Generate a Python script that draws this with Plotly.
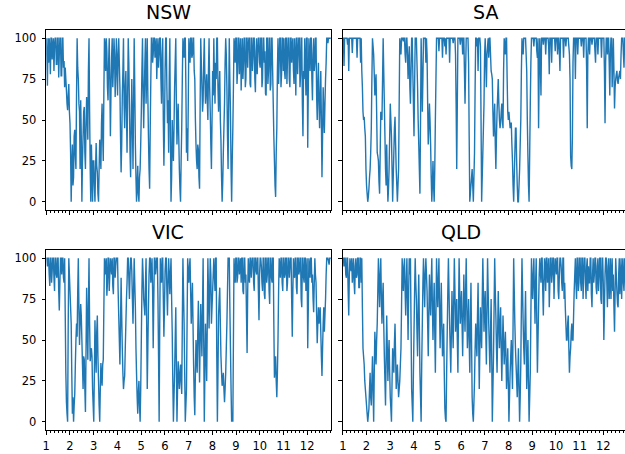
import numpy as np
import plotly.graph_objects as go

# ---- data (~0.025 month resolution) ----
nsw = [
    100, 88, 71, 100, 85, 100, 93, 78, 100, 100, 87, 95, 100, 80, 95, 100, 100, 84, 84, 100,
    100, 76, 90, 100, 100, 77, 77, 100, 100, 82, 86, 70, 82, 75, 68, 60, 56, 65, 72, 55,
    48, 30, 0, 22, 35, 10, 15, 40, 44, 28, 20, 65, 100, 82, 75, 60, 55, 20, 62, 40,
    0, 25, 40, 55, 58, 30, 20, 48, 64, 52, 38, 80, 100, 55, 20, 0, 35, 18, 0, 25,
    25, 10, 0, 20, 36, 22, 18, 5, 0, 20, 38, 30, 20, 48, 60, 40, 25, 67, 100, 95,
    80, 100, 92, 70, 62, 85, 100, 75, 40, 68, 88, 100, 70, 82, 100, 90, 64, 78, 100, 85,
    65, 90, 100, 85, 70, 40, 18, 35, 65, 80, 100, 60, 45, 70, 80, 55, 30, 65, 100, 85,
    60, 30, 15, 45, 75, 50, 20, 60, 100, 70, 35, 15, 0, 10, 22, 5, 0, 15, 20, 35,
    55, 80, 100, 70, 45, 65, 85, 100, 60, 78, 100, 65, 40, 20, 8, 45, 75, 100, 100, 85,
    90, 100, 100, 88, 95, 100, 75, 90, 100, 82, 90, 100, 100, 75, 60, 90, 100, 50, 22, 45,
    80, 100, 100, 70, 48, 62, 30, 75, 100, 40, 0, 15, 50, 35, 25, 45, 70, 85, 100, 60,
    35, 50, 60, 40, 20, 8, 0, 25, 45, 75, 100, 95, 88, 100, 100, 70, 30, 45, 25, 60,
    100, 92, 85, 100, 100, 88, 90, 100, 100, 80, 75, 50, 35, 25, 20, 35, 32, 15, 8, 60,
    100, 85, 70, 55, 62, 85, 100, 75, 60, 70, 78, 62, 50, 80, 100, 70, 55, 35, 20, 50,
    80, 65, 100, 75, 60, 85, 75, 100, 100, 70, 55, 68, 80, 50, 38, 15, 0, 12, 30, 45,
    60, 85, 100, 90, 70, 40, 20, 60, 100, 75, 55, 20, 0, 25, 45, 70, 100, 95, 85, 100,
    100, 72, 80, 100, 100, 78, 90, 100, 68, 85, 100, 75, 85, 100, 100, 70, 75, 100, 100, 82,
    95, 100, 100, 72, 70, 100, 100, 80, 88, 100, 100, 75, 67, 92, 100, 78, 90, 100, 100, 85,
    82, 100, 100, 70, 75, 100, 100, 85, 92, 66, 65, 100, 100, 72, 80, 100, 100, 68, 72, 100,
    100, 80, 60, 40, 25, 10, 3, 30, 45, 80, 100, 72, 85, 100, 100, 70, 78, 100, 100, 80,
    100, 80, 75, 100, 100, 72, 88, 100, 100, 75, 70, 100, 100, 85, 95, 100, 80, 72, 100, 88,
    65, 100, 100, 78, 90, 100, 100, 70, 78, 100, 100, 60, 40, 80, 75, 100, 85, 65, 100, 100,
    33, 70, 100, 88, 80, 100, 100, 75, 62, 90, 100, 80, 85, 100, 100, 65, 50, 72, 85, 60,
    45, 65, 80, 50, 15, 40, 70, 55, 42, 60, 75, 85, 100, 100, 97, 100, 100, 100, 100, 100]

sa = [
    100, 100, 83, 100, 100, 100, 100, 100, 96, 100, 80, 100, 100, 100, 100, 100, 91, 100, 100, 100,
    100, 100, 100, 100, 88, 100, 100, 100, 100, 100, 85, 100, 80, 70, 55, 50, 52, 45, 40, 20,
    10, 5, 0, 3, 8, 15, 20, 30, 45, 75, 100, 95, 90, 78, 65, 72, 78, 55, 30, 28,
    25, 12, 5, 30, 55, 52, 50, 75, 100, 80, 60, 40, 20, 10, 35, 15, 0, 8, 20, 40,
    60, 50, 40, 20, 0, 15, 30, 45, 52, 35, 20, 10, 0, 10, 20, 60, 100, 95, 90, 100,
    100, 100, 98, 100, 100, 90, 85, 100, 100, 90, 75, 85, 95, 70, 60, 80, 100, 100, 80, 60,
    40, 70, 100, 100, 100, 85, 70, 50, 35, 20, 5, 50, 100, 80, 55, 75, 100, 100, 100, 100,
    85, 100, 90, 60, 35, 45, 60, 50, 35, 15, 0, 10, 25, 10, 0, 20, 50, 75, 100, 100,
    100, 100, 92, 100, 100, 100, 100, 100, 88, 100, 100, 100, 95, 100, 90, 100, 100, 100, 100, 100,
    85, 100, 100, 100, 100, 100, 97, 100, 100, 100, 90, 60, 20, 60, 100, 100, 100, 100, 96, 100,
    100, 100, 90, 100, 100, 80, 60, 80, 100, 100, 100, 100, 85, 40, 0, 5, 10, 15, 20, 10,
    0, 15, 30, 70, 100, 100, 95, 100, 80, 100, 100, 100, 95, 50, 0, 15, 30, 45, 60, 90,
    100, 85, 70, 90, 95, 100, 88, 100, 100, 90, 80, 78, 75, 55, 40, 50, 60, 35, 20, 40,
    55, 65, 75, 60, 50, 45, 48, 55, 60, 50, 45, 80, 100, 95, 90, 100, 100, 75, 55, 50,
    55, 50, 45, 48, 48, 35, 25, 10, 0, 15, 30, 45, 45, 25, 10, 0, 0, 10, 20, 35,
    50, 80, 100, 95, 90, 100, 100, 100, 100, 90, 80, 50, 28, 10, 0, 30, 60, 85, 100, 100,
    100, 100, 95, 100, 100, 100, 100, 92, 88, 100, 45, 80, 100, 85, 65, 100, 100, 100, 96, 100,
    100, 100, 90, 100, 100, 100, 100, 95, 78, 100, 100, 100, 85, 100, 100, 100, 100, 100, 92, 100,
    100, 100, 90, 100, 100, 92, 80, 100, 100, 100, 100, 100, 88, 100, 100, 100, 95, 100, 100, 100,
    100, 95, 90, 75, 28, 22, 20, 40, 85, 100, 100, 100, 75, 100, 100, 100, 90, 100, 100, 100,
    100, 100, 95, 100, 100, 100, 88, 100, 100, 100, 100, 80, 45, 90, 100, 100, 90, 100, 100, 100,
    96, 100, 100, 100, 100, 92, 85, 100, 100, 100, 90, 100, 100, 100, 100, 100, 88, 100, 100, 100,
    100, 80, 48, 85, 100, 100, 90, 100, 100, 85, 65, 90, 100, 100, 70, 85, 100, 80, 57, 70,
    75, 78, 80, 74, 72, 76, 78, 80, 75, 90, 100, 100, 100, 90, 82, 100, 100, 100, 100, 100]

vic = [
    100, 100, 95, 100, 100, 90, 83, 100, 100, 85, 92, 100, 100, 88, 80, 100, 100, 90, 88, 100,
    100, 80, 68, 85, 100, 100, 90, 100, 100, 88, 85, 100, 65, 30, 12, 5, 0, 60, 100, 90,
    80, 70, 60, 30, 5, 15, 0, 10, 17, 35, 50, 60, 52, 80, 100, 70, 47, 60, 72, 65,
    50, 35, 20, 40, 38, 20, 6, 45, 82, 60, 38, 70, 100, 60, 37, 42, 45, 40, 20, 10,
    0, 30, 62, 45, 30, 55, 65, 40, 25, 10, 0, 20, 36, 28, 22, 35, 38, 70, 100, 95,
    90, 100, 77, 85, 100, 100, 80, 90, 100, 95, 90, 100, 83, 78, 100, 100, 88, 95, 100, 100,
    100, 80, 65, 50, 35, 60, 88, 65, 45, 30, 20, 25, 28, 45, 60, 75, 85, 100, 100, 88,
    75, 90, 100, 100, 92, 75, 60, 80, 100, 85, 70, 45, 29, 15, 5, 18, 25, 10, 0, 20,
    50, 80, 100, 90, 75, 70, 65, 85, 100, 60, 20, 45, 70, 90, 100, 100, 85, 92, 100, 80,
    45, 75, 100, 100, 90, 95, 100, 100, 75, 40, 0, 60, 100, 90, 85, 100, 100, 75, 52, 70,
    92, 100, 100, 80, 65, 85, 100, 90, 78, 90, 100, 75, 55, 25, 0, 15, 30, 50, 70, 35,
    0, 20, 37, 30, 20, 28, 35, 25, 17, 60, 100, 80, 60, 30, 0, 10, 20, 60, 100, 90,
    85, 95, 100, 80, 60, 72, 85, 60, 35, 15, 4, 30, 50, 40, 30, 55, 74, 50, 24, 50,
    72, 55, 40, 70, 100, 50, 0, 30, 60, 45, 25, 60, 100, 80, 57, 80, 100, 90, 60, 70,
    80, 90, 100, 90, 80, 100, 100, 40, 0, 30, 65, 75, 82, 60, 40, 30, 22, 26, 30, 20,
    12, 20, 30, 45, 60, 80, 100, 100, 100, 70, 45, 20, 0, 5, 0, 50, 100, 90, 85, 100,
    100, 85, 88, 100, 100, 90, 95, 100, 85, 100, 100, 80, 78, 100, 100, 85, 90, 65, 42, 80,
    100, 90, 85, 100, 100, 88, 96, 100, 100, 85, 80, 100, 100, 92, 90, 100, 100, 80, 62, 90,
    100, 100, 95, 85, 80, 100, 100, 78, 75, 100, 100, 85, 90, 100, 100, 80, 72, 100, 100, 88,
    85, 100, 100, 60, 27, 35, 40, 25, 15, 30, 50, 80, 100, 95, 88, 100, 100, 85, 80, 100,
    100, 88, 90, 100, 100, 80, 85, 100, 100, 88, 95, 100, 100, 75, 52, 80, 100, 92, 88, 100,
    100, 82, 78, 100, 100, 90, 92, 100, 100, 75, 70, 100, 100, 88, 85, 100, 100, 80, 90, 100,
    45, 70, 100, 95, 88, 100, 100, 85, 90, 75, 67, 85, 100, 90, 85, 65, 48, 60, 70, 60,
    65, 70, 55, 40, 28, 45, 60, 70, 55, 65, 75, 90, 100, 100, 100, 98, 96, 100, 100, 100]

qld = [
    100, 100, 95, 100, 100, 90, 88, 100, 100, 80, 65, 90, 100, 95, 92, 100, 85, 92, 100, 85,
    78, 95, 100, 88, 90, 100, 100, 82, 82, 100, 100, 85, 100, 70, 45, 40, 35, 25, 20, 15,
    10, 5, 0, 4, 8, 20, 30, 15, 10, 25, 40, 20, 0, 30, 55, 45, 35, 50, 60, 80,
    100, 85, 70, 90, 100, 75, 60, 75, 85, 60, 40, 25, 10, 40, 65, 45, 25, 40, 50, 30,
    15, 8, 0, 25, 45, 38, 30, 48, 60, 40, 20, 28, 35, 25, 15, 20, 25, 35, 45, 70,
    100, 90, 80, 95, 100, 80, 65, 85, 100, 75, 50, 80, 100, 90, 100, 60, 20, 10, 0, 30,
    55, 80, 100, 85, 75, 55, 40, 70, 90, 60, 30, 15, 0, 35, 60, 85, 100, 85, 70, 90,
    100, 90, 80, 60, 40, 65, 90, 75, 65, 85, 100, 70, 50, 70, 85, 55, 30, 65, 100, 85,
    70, 85, 100, 70, 45, 65, 85, 60, 40, 50, 60, 30, 8, 2, 0, 30, 55, 80, 100, 80,
    60, 45, 30, 55, 80, 60, 45, 75, 100, 80, 55, 65, 75, 50, 30, 65, 100, 80, 60, 70,
    80, 60, 40, 65, 90, 70, 55, 80, 100, 70, 45, 60, 75, 50, 30, 60, 85, 50, 15, 5,
    0, 12, 25, 45, 60, 50, 40, 65, 85, 50, 20, 45, 70, 55, 45, 75, 100, 80, 55, 70,
    80, 55, 35, 70, 100, 80, 60, 45, 30, 55, 75, 40, 0, 20, 40, 70, 100, 80, 65, 45,
    30, 55, 80, 60, 45, 60, 70, 45, 25, 45, 65, 50, 35, 45, 55, 40, 20, 30, 45, 25,
    0, 15, 30, 40, 50, 35, 20, 60, 100, 80, 60, 45, 35, 25, 15, 30, 45, 20, 0, 15,
    35, 70, 100, 80, 60, 45, 35, 60, 80, 50, 20, 35, 50, 25, 0, 15, 30, 65, 100, 85,
    75, 90, 100, 80, 60, 85, 100, 60, 30, 50, 70, 90, 100, 92, 85, 100, 100, 80, 65, 85,
    100, 95, 80, 100, 100, 85, 90, 100, 70, 85, 100, 100, 85, 90, 100, 100, 75, 90, 100, 95,
    90, 100, 100, 80, 75, 90, 100, 100, 95, 85, 80, 100, 100, 75, 85, 70, 60, 50, 50, 60,
    65, 45, 30, 40, 45, 55, 60, 50, 50, 65, 80, 90, 100, 85, 75, 100, 100, 80, 85, 100,
    100, 85, 80, 100, 100, 75, 90, 100, 100, 85, 75, 95, 100, 80, 95, 85, 85, 100, 100, 78,
    70, 90, 100, 85, 90, 100, 100, 82, 78, 95, 100, 80, 88, 100, 100, 75, 72, 100, 100, 85,
    50, 70, 90, 100, 100, 85, 70, 95, 100, 75, 85, 100, 75, 90, 100, 80, 90, 70, 55, 80,
    100, 90, 80, 72, 70, 90, 100, 78, 85, 100, 75, 90, 100, 85, 80, 100, 95, 80, 100, 100]

titles = ["NSW", "SA", "VIC", "QLD"]
series = [nsw, sa, vic, qld]
month_ticks = list(range(1, 13))
y_ticks = [0, 25, 50, 75, 100]

W, H = 625, 454
# axes boxes in pixels: (left, top, right, bottom)
boxes = [(42.5, 30, 329, 210), (341, 30, 627, 210),
         (42.5, 250, 329, 430), (341, 250, 627, 430)]
title_x = [166, 484.5, 165, 460]

fig = go.Figure()
for i, (name, vals) in enumerate(zip(titles, series)):
    x = np.linspace(1, 13, len(vals))
    ax = "" if i == 0 else str(i + 1)
    fig.add_trace(go.Scatter(x=x, y=vals, mode="lines",
                             line=dict(color="#1f77b4", width=1.4, simplify=False),
                             xaxis="x" + ax, yaxis="y" + ax, showlegend=False))
    l, t, r, b = boxes[i]
    x1 = min(r, W)
    xmax = 1 + 12 * (x1 - l) / (r - l)
    right_col = i in (1, 3)
    bottom_row = i in (2, 3)
    fig.layout["xaxis" + ax] = dict(
        domain=[l / W, x1 / W], range=[1, xmax], anchor="y" + ax,
        tickvals=month_ticks, showticklabels=bottom_row,
        ticks="outside", ticklen=3.5, tickwidth=0.8, tickcolor="black",
        ticklabelstandoff=2,
        minor=dict(dtick=1 / 6, tick0=1, ticks="outside", ticklen=2,
                   tickwidth=0.6, tickcolor="black", showgrid=False),
        showgrid=False, zeroline=False, showline=True, mirror=True,
        linecolor="black", linewidth=1,
        tickfont=dict(family="DejaVu Sans", size=11.5, color="black"))
    fig.layout["yaxis" + ax] = dict(
        domain=[1 - b / H, 1 - t / H], range=[-5, 105], anchor="x" + ax,
        tickvals=y_ticks, showticklabels=not right_col,
        ticks="outside", ticklen=3.5, tickwidth=0.8, tickcolor="black",
        ticklabelstandoff=3,
        showgrid=False, zeroline=False, showline=True,
        mirror=(not right_col), linecolor="black", linewidth=1,
        tickfont=dict(family="DejaVu Sans", size=11.5, color="black"))
    fig.add_annotation(text=name, x=title_x[i] / W, y=1 - (t - 5) / H,
                       xref="paper", yref="paper", xanchor="center",
                       yanchor="bottom", showarrow=False,
                       font=dict(family="DejaVu Sans", size=19, color="black"))

fig.update_layout(width=W, height=H, margin=dict(l=0, r=0, t=0, b=0),
                  paper_bgcolor="white", plot_bgcolor="white")
fig.write_html("out.html")
